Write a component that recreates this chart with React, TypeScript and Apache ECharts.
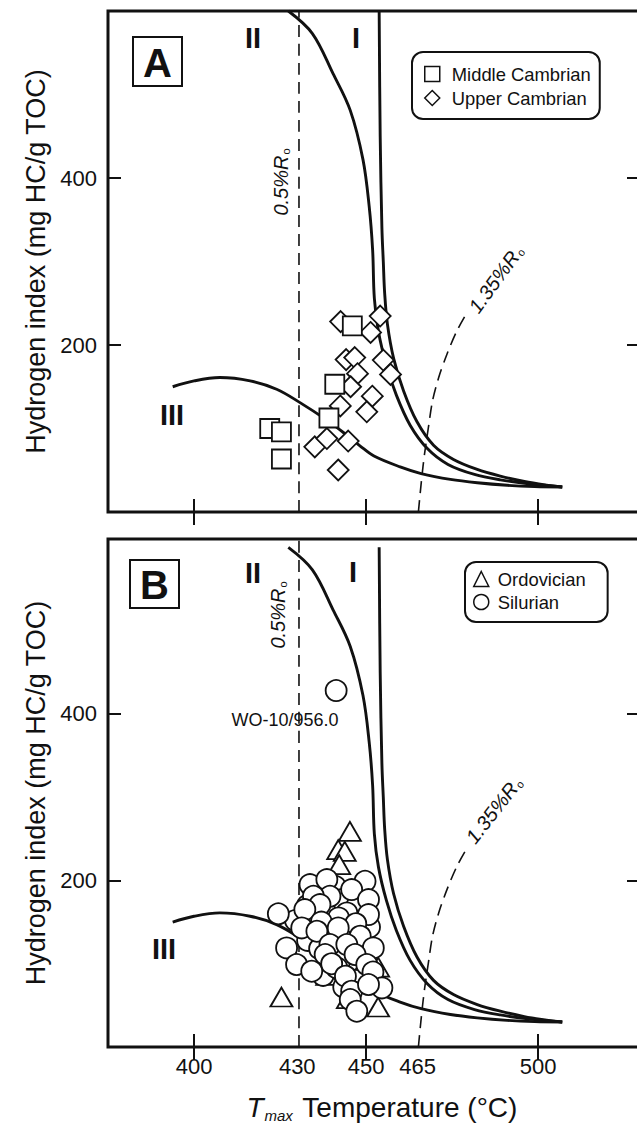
import React, { useEffect, useRef } from "react";
import * as echarts from "echarts";

// ---- axis values ----
const tmaxTickValues = [400, 450, 500];
const tmaxLabelValues = [400, 430, 450, 465, 500];
const hiTickValues = [200, 400];

// ---- kerogen type evolution curves (Tmax, HI) ----
const typeICurve = [
  [453.8, 600], [454.1, 450], [454.6, 340], [455, 300], [455.4, 262], [456.2, 225],
  [458, 184], [460.9, 145], [464.8, 108], [469.6, 80], [475.4, 63], [482.3, 51],
  [489, 43], [496, 36.5], [502, 32.5], [507, 30],
];
const typeIICurve = [
  [427.4, 600], [434.4, 573], [440.4, 525], [445.4, 481], [449.1, 422], [450.9, 366],
  [451.9, 314], [452.4, 256], [453.6, 216], [455.9, 176], [458.8, 140], [462.8, 104],
  [467.8, 76], [473.8, 57], [481.5, 45], [489, 38.5], [497.8, 33.5], [507, 30],
];
const typeIIICurve = [
  [393.8, 150], [400, 157], [407.5, 161], [416.3, 157], [424, 147], [430.8, 131],
  [438.6, 110], [444.4, 92], [448.3, 79], [452.3, 67], [459.9, 54], [466, 46],
  [474.5, 39], [482.3, 35], [491, 32], [499, 30.5], [507, 30],
];
const ro05Line = [[430.5, 0], [430.5, 610]];
const ro135Line = [
  [465.2, 0], [466.1, 38], [467, 70], [468.1, 101], [469.3, 133], [471.1, 161],
  [473.5, 189], [476.4, 217], [479.5, 240],
];

// ---- samples (Tmax, HI) ----
const middleCambrian = [
  [422, 100], [425.4, 96], [425.4, 63.5], [446, 223], [440.9, 153], [439.2, 112.6],
];
const upperCambrian = [
  [442.6, 228], [454.1, 234.7], [451.3, 215], [444.2, 182.5], [446.7, 185], [447.5, 165.6],
  [455, 182], [457.1, 164.7], [445.5, 150], [451.8, 138.7], [450.2, 120], [442.5, 127],
  [435.1, 78], [438.6, 88], [444.8, 85], [441.9, 50.3],
];
const ordovician = [
  [445.3, 259], [441.9, 237], [443.8, 235], [442.2, 219], [425.4, 60], [453.5, 48],
  [453.5, 96], [438.7, 86], [444.7, 58],
];
const silurian = [
  [437, 190], [441, 193], [443, 177], [447.5, 171], [433, 170], [429.5, 152],
  [440, 141], [446, 137], [451, 144], [433, 128], [436.5, 118], [442.5, 104],
  [448, 94], [437.5, 86], [449, 84], [443.5, 72], [447, 80],
  [433.7, 195], [438.6, 201], [449.7, 199], [445.8, 189], [439.5, 181], [434.7, 181],
  [450.7, 177], [436.6, 171], [424.5, 160], [432.2, 165], [444.4, 161], [450.7, 159],
  [442, 155], [437, 150], [447, 148], [431.3, 143], [435.7, 139], [441.9, 143],
  [448.3, 133], [452.1, 119], [426.9, 119], [439.5, 123], [444.4, 123], [438.1, 111],
  [446.8, 111], [429.8, 99], [434.2, 91], [441.5, 95], [450.2, 99], [440, 100],
  [452, 90], [444, 85], [454.6, 71], [445.8, 67], [450.7, 75], [445.4, 57],
  [447.3, 43], [441.3, 428],
];

const FONT = '"Liberation Sans", Arial, Helvetica, sans-serif';
const INK = "#111";

function xAxisDef(gridIndex: number, position: string, withLabels: boolean, withName: boolean) {
  const ax: any = {
    type: "value",
    gridIndex,
    position,
    min: 375,
    max: 529.6,
    axisLine: { show: false },
    splitLine: { show: false },
    axisTick: { show: true, inside: true, length: 13, lineStyle: { color: INK, width: 2 }, customValues: tmaxTickValues },
    axisLabel: withLabels
      ? { show: true, customValues: tmaxLabelValues, fontSize: 22, color: INK, fontFamily: FONT, margin: 8 }
      : { show: false },
  };
  if (withName) {
    ax.name = "{i|T}{s|max}{n| Temperature (°C)}";
    ax.nameLocation = "middle";
    ax.nameGap = 44;
    ax.nameTextStyle = {
      color: INK,
      fontFamily: FONT,
      fontSize: 28,
      padding: [0, 0, 0, 16],
      rich: {
        i: { fontSize: 28, fontStyle: "italic", fontFamily: FONT, color: INK },
        s: { fontSize: 15, fontStyle: "italic", fontFamily: FONT, color: INK, padding: [17, 2, 0, 1] },
        n: { fontSize: 28, fontFamily: FONT, color: INK },
      },
    };
  }
  return ax;
}

function yAxisDef(gridIndex: number, position: string, max: number, withLabels: boolean) {
  const ax: any = {
    type: "value",
    gridIndex,
    position,
    min: 0,
    max,
    axisLine: { show: false },
    splitLine: { show: false },
    axisTick: { show: true, inside: true, length: 13, lineStyle: { color: INK, width: 2 }, customValues: hiTickValues },
    axisLabel: withLabels
      ? { show: true, customValues: hiTickValues, fontSize: 22, color: INK, fontFamily: FONT, margin: 11 }
      : { show: false },
  };
  if (withLabels) {
    ax.name = "Hydrogen index (mg HC/g TOC)";
    ax.nameLocation = "middle";
    ax.nameRotate = 90;
    ax.nameGap = 56;
    ax.nameTextStyle = { color: INK, fontFamily: FONT, fontSize: 27 };
  }
  return ax;
}

function curveSeries(name: string, data: number[][], xi: number, yi: number, dashed: boolean) {
  return {
    name,
    type: "line",
    xAxisIndex: xi,
    yAxisIndex: yi,
    data,
    smooth: dashed ? 0.3 : 0.35,
    symbol: "none",
    showSymbol: false,
    silent: true,
    lineStyle: dashed
      ? { color: INK, width: 1.6, type: [12, 7] }
      : { color: INK, width: 2.9 },
    z: 2,
  };
}

function scatterSeries(name: string, data: number[][], xi: number, yi: number, symbol: string, size: any) {
  return {
    name,
    type: "scatter",
    xAxisIndex: xi,
    yAxisIndex: yi,
    data,
    symbol,
    symbolSize: size,
    silent: true,
    itemStyle: { color: "#fff", borderColor: INK, borderWidth: 1.8, opacity: 1 },
    z: 3,
  };
}

function numeral(text: string, x: number, y: number, size = 29) {
  return {
    type: "text",
    x,
    y,
    style: { text, font: `bold ${size}px ${FONT}`, fill: INK, textAlign: "center", textVerticalAlign: "middle" },
  };
}

function roLabel(main: string, x: number, y: number, rotation: number) {
  return {
    type: "text",
    x,
    y,
    rotation,
    style: {
      text: `{a|${main}}{b|o}`,
      textAlign: "center",
      textVerticalAlign: "middle",
      fill: INK,
      rich: {
        a: { fontSize: 20, fontStyle: "italic", fontFamily: FONT, color: INK },
        b: { fontSize: 11, fontFamily: FONT, color: INK, padding: [9, 0, 0, 1] },
      },
    },
  };
}

function panelBox(letter: string, x: number, y: number, w: number, h: number) {
  return [
    { type: "rect", shape: { x, y, width: w, height: h }, style: { fill: "#fff", stroke: INK, lineWidth: 2 } },
    {
      type: "text",
      x: x + w / 2,
      y: y + h / 2 + 1,
      style: { text: letter, font: `bold 40px ${FONT}`, fill: INK, textAlign: "center", textVerticalAlign: "middle" },
    },
  ];
}

const legendCommon = {
  orient: "vertical",
  itemWidth: 15,
  itemHeight: 15,
  borderColor: INK,
  borderWidth: 2,
  borderRadius: 11,
  backgroundColor: "#fff",
  selectedMode: false,
  itemStyle: { color: "#fff", borderColor: INK, borderWidth: 1.5 },
};

export default function App() {
  const ref = useRef<HTMLDivElement>(null);
  useEffect(() => {
    if (!ref.current) return;
    const chart = echarts.init(ref.current, null, { renderer: "svg" });
    const option: any = {
      animation: false,
      backgroundColor: "#fff",
      grid: [
        { left: 108, top: 11, width: 532, height: 501, show: true, borderColor: INK, borderWidth: 3, containLabel: false },
        { left: 108, top: 539, width: 532, height: 509, show: true, borderColor: INK, borderWidth: 3, containLabel: false },
      ],
      xAxis: [
        xAxisDef(0, "bottom", false, false),
        xAxisDef(0, "top", false, false),
        xAxisDef(1, "bottom", true, true),
        xAxisDef(1, "top", false, false),
      ],
      yAxis: [
        yAxisDef(0, "left", 600, true),
        yAxisDef(0, "right", 600, false),
        yAxisDef(1, "left", 610, true),
        yAxisDef(1, "right", 610, false),
      ],
      legend: [
        {
          ...legendCommon,
          data: ["Middle Cambrian", "Upper Cambrian"],
          left: 412,
          top: 52,
          padding: [13, 9, 12, 12],
          itemGap: 6,
          textStyle: { fontSize: 18.4, color: INK, fontFamily: FONT, lineHeight: 18, padding: [0, 0, 0, 7] },
        },
        {
          ...legendCommon,
          data: ["Ordovician", "Silurian"],
          left: 465,
          top: 562,
          padding: [8, 22, 11, 8],
          itemGap: 5,
          textStyle: { fontSize: 18.4, color: INK, fontFamily: FONT, lineHeight: 18, padding: [0, 0, 0, 4] },
        },
      ],
      graphic: [
        ...panelBox("A", 133, 37, 49, 49),
        ...panelBox("B", 130, 560, 49, 48),
        numeral("II", 253, 38),
        numeral("I", 356, 38),
        numeral("III", 172, 415),
        numeral("II", 253, 573),
        numeral("I", 353, 572),
        numeral("III", 164, 949),
        roLabel("0.5%R", 281, 182, Math.PI / 2),
        roLabel("0.5%R", 278, 615, Math.PI / 2),
        roLabel("1.35%R", 496, 279, (54 * Math.PI) / 180),
        roLabel("1.35%R", 494, 810, (52 * Math.PI) / 180),
        {
          type: "text",
          x: 285,
          y: 720,
          style: { text: "WO-10/956.0", font: `18px ${FONT}`, fill: INK, textAlign: "center", textVerticalAlign: "middle" },
        },
      ],
      series: [
        // Panel A
        curveSeries("Type I", typeICurve, 0, 0, false),
        curveSeries("Type II", typeIICurve, 0, 0, false),
        curveSeries("Type III", typeIIICurve, 0, 0, false),
        curveSeries("0.5% Ro", ro05Line, 0, 0, true),
        curveSeries("1.35% Ro", ro135Line, 0, 0, true),
        scatterSeries("Upper Cambrian", upperCambrian, 0, 0, "diamond", [21, 21]),
        scatterSeries("Middle Cambrian", middleCambrian, 0, 0, "rect", [19, 19]),
        // Panel B
        curveSeries("Type I ", typeICurve, 2, 2, false),
        curveSeries("Type II ", typeIICurve, 2, 2, false),
        curveSeries("Type III ", typeIIICurve, 2, 2, false),
        curveSeries("0.5% Ro ", ro05Line, 2, 2, true),
        curveSeries("1.35% Ro ", ro135Line, 2, 2, true),
        scatterSeries("Ordovician", ordovician, 2, 2, "triangle", [22, 19]),
        scatterSeries("Silurian", silurian, 2, 2, "circle", 21),
      ],
    };
    chart.setOption(option);
    return () => chart.dispose();
  }, []);

  return (
    <div style={{ position: "absolute", left: 0, top: 0, width: 637, height: 1124, overflow: "hidden", background: "#fff" }}>
      <div ref={ref} style={{ width: 645, height: 1124 }} />
    </div>
  );
}
